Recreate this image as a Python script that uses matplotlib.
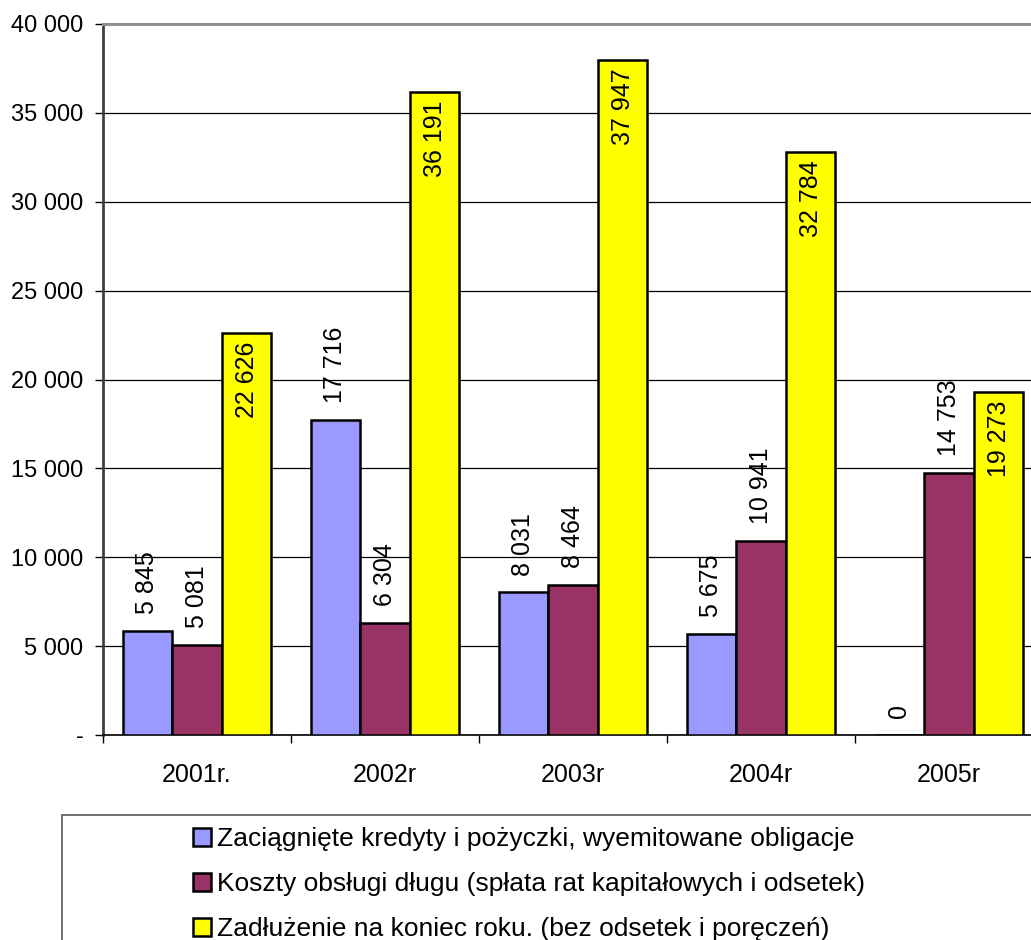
import numpy as np
import matplotlib.pyplot as plt
from matplotlib.patches import Rectangle

plt.rcParams['font.family'] = ['Liberation Sans', 'DejaVu Sans']

# dane
years = ['2001r.', '2002r', '2003r', '2004r', '2005r']
kredyty = [5845, 17716, 8031, 5675, 0]
koszty = [5081, 6304, 8464, 10941, 14753]
zadluzenie = [22626, 36191, 37947, 32784, 19273]
series_names = [
    'Zaciągnięte kredyty i pożyczki, wyemitowane obligacje',
    'Koszty obsługi długu (spłata rat kapitałowych i odsetek)',
    'Zadłużenie na koniec roku. (bez odsetek i poręczeń)',
]
colors = ['#9999ff', '#993366', '#ffff00']
yticks = [0, 5000, 10000, 15000, 20000, 25000, 30000, 35000, 40000]
ytick_labels = ['-', '5 000', '10 000', '15 000', '20 000', '25 000',
                '30 000', '35 000', '40 000']


def fmt(v):
    return f'{v:,}'.replace(',', ' ')


W, H = 1031, 940
fig = plt.figure(figsize=(W / 100, H / 100), dpi=100)
ax = fig.add_axes([103 / W, 1 - 735 / H, 940 / W, 711 / H])

x = np.arange(len(years))
bw = 0.264
series = [kredyty, koszty, zadluzenie]
for i, (vals, c) in enumerate(zip(series, colors)):
    ax.bar(x + (i - 1) * bw, vals, bw, color=c, edgecolor='black',
           linewidth=1.8, zorder=3, label=series_names[i])

# etykiety wartości
for i, vals in enumerate(series):
    for xi, v in zip(x, vals):
        xp = xi + (i - 1) * bw
        if i == 2:
            ax.annotate(fmt(v), (xp, v), xytext=(0, -6), textcoords='offset points',
                        rotation=90, ha='center', va='top', fontsize=18, zorder=4)
        else:
            ax.annotate(fmt(v), (xp, v), xytext=(0, 12), textcoords='offset points',
                        rotation=90, ha='center', va='bottom', fontsize=18, zorder=4)

ax.set_xlim(-0.5, len(years) - 0.5)
ax.set_ylim(0, 40000)
ax.set_yticks(yticks)
ax.set_yticklabels(ytick_labels, fontsize=17)
ax.set_xticks(x)
ax.set_xticklabels(years, fontsize=18)
ax.set_xticks(np.arange(-0.5, len(years)), minor=True)
ax.tick_params(axis='x', which='major', length=0, pad=20)
ax.tick_params(axis='x', which='minor', length=6, width=1, direction='out')
ax.tick_params(axis='y', length=6, width=1, pad=8)

ax.yaxis.grid(True, color='black', linewidth=0.9, zorder=0)
ax.set_axisbelow(True)
ax.spines['right'].set_visible(False)
ax.spines['top'].set_color('#909090')
ax.spines['top'].set_linewidth(2.2)
ax.spines['left'].set_color('#404040')
ax.spines['left'].set_linewidth(2)
ax.spines['bottom'].set_linewidth(1.2)

# legenda
fig.patches.append(Rectangle((62 / W, -0.02), 1.0, (940 - 815) / H + 0.02,
                             transform=fig.transFigure, facecolor='white',
                             edgecolor='#555555', linewidth=1.2))
handles = [Rectangle((0, 0), 1, 1, facecolor=c, edgecolor='black', linewidth=1.8)
           for c in colors]
fig.legend(handles, series_names, loc='upper left',
           bbox_to_anchor=(193 / W, 1 - 827 / H), frameon=False, fontsize=19,
           handlelength=0.68, handleheight=0.68, handletextpad=0.23,
           labelspacing=0.8, borderpad=0, borderaxespad=0)

fig.savefig('out.png', dpi=100)
